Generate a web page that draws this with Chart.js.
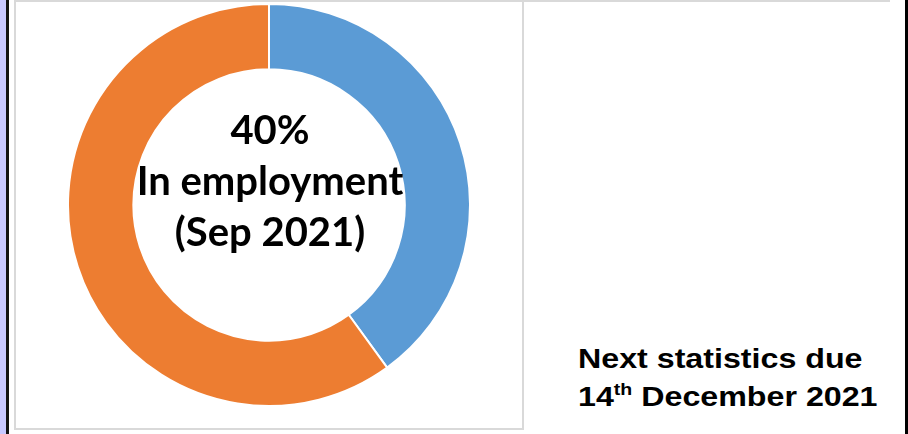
<!DOCTYPE html>
<html>
<head>
<meta charset="utf-8">
<script src="https://cdn.jsdelivr.net/npm/chart.js@4"></script>
<style>
  html, body { margin: 0; padding: 0; background: #fff; }
  body { width: 908px; height: 434px; position: relative; overflow: hidden; }
  #strip { position: absolute; left: 0; top: 0; width: 6px; height: 434px; background: #c8c8ff; }
  #darkline { position: absolute; left: 6px; top: 0; width: 3px; height: 434px; background: #111; }
  #rightline { position: absolute; left: 905px; top: 0; width: 3px; height: 434px; background: #000; }
  #topline { position: absolute; left: 14px; top: 0; width: 876px; height: 2px; background: #d9d9d9; }
  #box { position: absolute; left: 14px; top: 0; width: 506px; height: 428px; border: 2px solid #d9d9d9; border-top: none; }
  #wrap { position: absolute; left: 67px; top: 3px; width: 404px; height: 404px; }
  .center { position: absolute; left: 70px; width: 400px; text-align: center;
            font-family: Lato, "Open Sans", sans-serif; font-weight: 700; font-size: 40px;
            line-height: 51px; color: #000; white-space: nowrap; }
  .note { position: absolute; left: 578px; font-family: "Liberation Sans", Arial, sans-serif;
          font-weight: 700; font-size: 28px; line-height: 38px; color: #000; white-space: nowrap;
          transform: scaleX(1.15); transform-origin: 0 0; }
  .note sup { font-size: 17px; vertical-align: 0; position: relative; top: -11px; }
</style>
</head>
<body>
<div id="strip"></div>
<div id="darkline"></div>
<div id="topline"></div>
<div id="box"></div>
<div id="rightline"></div>
<div id="wrap"><canvas id="c"></canvas></div>
<div class="center" style="top:104px">40%</div>
<div class="center" style="top:155px">In employment</div>
<div class="center" style="top:206px">(Sep 2021)</div>
<div class="note" style="top:340px">Next statistics due</div>
<div class="note" style="top:378px">14<sup>th</sup> December 2021</div>
<script>
const categories = ["In employment", "Not in employment"];
const values = [40, 60];
const colors = ["#5B9BD5", "#ED7D31"];

new Chart(document.getElementById("c"), {
  type: "doughnut",
  data: {
    labels: categories,
    datasets: [{
      data: values,
      backgroundColor: colors,
      borderColor: "#ffffff",
      borderWidth: 2
    }]
  },
  options: {
    responsive: true,
    maintainAspectRatio: false,
    animation: false,
    cutout: "67.5%",
    layout: { padding: 0 },
    plugins: { legend: { display: false }, tooltip: { enabled: false } }
  }
});
</script>
</body>
</html>
